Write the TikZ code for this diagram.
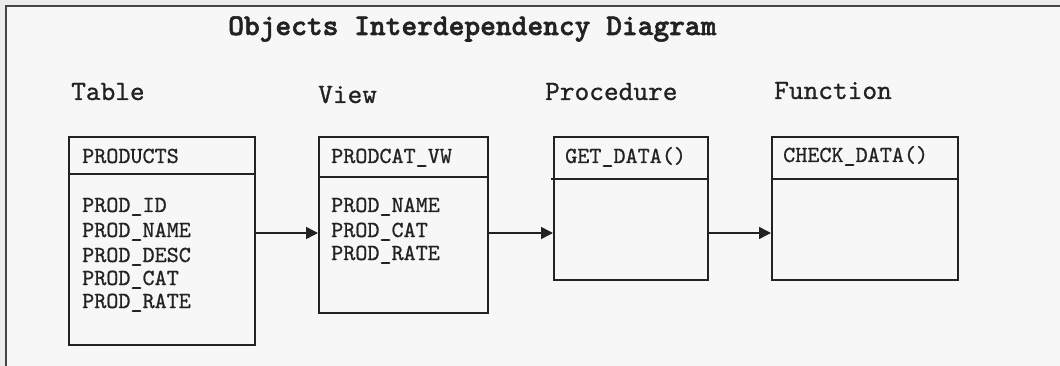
\documentclass[tikz,border=0pt]{standalone}
\usepackage{fontspec}
\newfontfamily\titlefont{lmmonolt10-bold}[Extension=.otf,FakeBold=1.8]
\newfontfamily\labelfont{lmmono10-regular}[Extension=.otf,FakeBold=0.8]
\usetikzlibrary{arrows.meta}
\definecolor{bgin}{HTML}{F7F7F7}
\definecolor{bgout}{HTML}{EBEBEB}
\definecolor{ink}{HTML}{222222}
\definecolor{framec}{HTML}{444444}
\begin{document}
\begin{tikzpicture}[x=1pt,y=-1pt,
  boxline/.style={draw=ink,line width=1.8pt},
  titletext/.style={anchor=base west,inner sep=0pt,text=ink,font=\titlefont\fontsize{30}{30}\selectfont},
  headtext/.style={anchor=base west,inner sep=0pt,text=ink,font=\labelfont\fontsize{28}{28}\selectfont},
  celltext/.style={anchor=base west,inner sep=0pt,text=ink,font=\labelfont\fontsize{23}{23}\selectfont},
  flow/.style={draw=ink,line width=1.6pt,-{Triangle[length=12pt,width=12pt]}}]
\useasboundingbox (0,0) rectangle (1060,366);
\fill[bgout] (0,0) rectangle (1060,366);
\fill[bgin] (6,6) rectangle (1060,366);
\draw[framec,line width=2pt] (6,366) -- (6,6) -- (1060,6);

\node[titletext] (title) at (228,35) {Objects Interdependency Diagram};
\node[headtext] (htable) at (71,100) {Table};
\node[headtext] (hview) at (318,103) {View};
\node[headtext] (hproc) at (545,100) {Procedure};
\node[headtext] (hfunc) at (774,99) {Function};

% PRODUCTS
\node[boxline,inner sep=0pt,anchor=north west,
  minimum width=186pt,minimum height=208pt] (tbl) at (68,136) {};
\draw[boxline] (68,174) -- (256,174);
\node[celltext] (tname) at (82,163) {PRODUCTS};
\node[celltext] (t1) at (82,212) {PROD\_ID};
\node[celltext] (t2) at (82,237) {PROD\_NAME};
\node[celltext] (t3) at (82,262) {PROD\_DESC};
\node[celltext] (t4) at (82,285) {PROD\_CAT};
\node[celltext] (t5) at (82,308) {PROD\_RATE};

% PRODCAT_VW
\node[boxline,inner sep=0pt,anchor=north west,
  minimum width=169pt,minimum height=176pt] (vw) at (318,136) {};
\draw[boxline] (318,177) -- (489,177);
\node[celltext] (vname) at (331,163) {PRODCAT\_VW};
\node[celltext] (v1) at (331,212) {PROD\_NAME};
\node[celltext] (v2) at (331,237) {PROD\_CAT};
\node[celltext] (v3) at (331,260) {PROD\_RATE};

% GET_DATA()
\node[boxline,inner sep=0pt,anchor=north west,
  minimum width=154pt,minimum height=143pt] (prc) at (553,136) {};
\draw[boxline] (551,179) -- (707,179);
\node[celltext] (pname) at (565,163) {GET\_DATA()};

% CHECK_DATA()
\node[boxline,inner sep=0pt,anchor=north west,
  minimum width=186pt,minimum height=143pt] (fn) at (771,136) {};
\draw[boxline] (771,179) -- (957,179);
\node[celltext] (fname) at (783,162) {CHECK\_DATA()};

% connectors
\coordinate (a1) at (254,233);
\coordinate (a2) at (487,233);
\coordinate (a3) at (707,233);
\draw[flow] (a1) -- (a1 -| vw.west);
\draw[flow] (a2) -- (a2 -| prc.west);
\draw[flow] (a3) -- (a3 -| fn.west);
\end{tikzpicture}
\end{document}
